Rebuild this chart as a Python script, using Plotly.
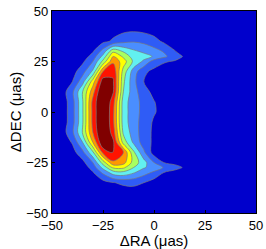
import plotly.graph_objects as go

# Offsets (micro-arcseconds)
ra = [-50, -45, -40, -35, -30, -25, -20, -15, -10, -5, 0, 5, 10, 12.5, 15, 20, 25, 30, 35, 40, 45, 50]
dec = [-50, -45, -40, -35, -30, -27.5, -25, -20, -15, -10, -5, 0, 5, 10, 15, 20, 25, 27.5, 30, 35, 40, 45, 50]

# Intensity levels (rows: DEC ascending, cols: RA ascending)
row_m50 = [0, 0, 0, 0, 0, 0, 0.02, 0.03, 0.03, 0.02, 0.01, 0, 0, 0, 0, 0, 0, 0, 0, 0, 0, 0]
row_m45 = [0, 0, 0, 0, 0, 0.05, 0.1, 0.15, 0.15, 0.1, 0.05, 0, 0, 0, 0, 0, 0, 0, 0, 0, 0, 0]
row_m40 = [0, 0, 0, 0, 0.05, 0.2, 0.35, 0.45, 0.45, 0.35, 0.2, 0.05, 0, 0, 0, 0, 0, 0, 0, 0, 0, 0]
row_m35 = [0, 0, 0, 0, 0.2, 0.6, 0.95, 1.2, 1.3, 1.0, 0.5, 0.25, 0.1, 0.05, 0, 0, 0, 0, 0, 0, 0, 0]
row_m30 = [0, 0, 0, 0.2, 0.9, 2.2, 3.5, 3.7, 3.1, 2.4, 1.8, 0.95, 0.6, 0.4, 0.3, 0.05, 0, 0, 0, 0, 0, 0]
row_m27 = [0, 0, 0.05, 0.4, 1.4, 3.3, 5.2, 5.2, 4.0, 3.1, 2.6, 1.9, 1.4, 1.15, 0.85, 0.2, 0, 0, 0, 0, 0, 0]
row_m25 = [0, 0, 0.1, 0.7, 2.0, 4.5, 6.8, 6.4, 4.6, 3.4, 2.0, 0.95, 0.7, 0.6, 0.4, 0.05, 0, 0, 0, 0, 0, 0]
row_m20 = [0, 0.1, 0.6, 1.7, 3.8, 7.3, 8.05, 7.0, 4.2, 2.2, 0.5, 0.45, 0.25, 0.2, 0.1, 0, 0, 0, 0, 0, 0, 0]
row_m15 = [0, 0.3, 1.1, 3.0, 6.0, 9.0, 8.2, 4.6, 2.8, 1.5, 0.8, 0.4, 0.2, 0.15, 0.1, 0, 0, 0, 0, 0, 0, 0]
row_m10 = [0, 0.5, 1.8, 4.1, 7.0, 9.4, 7.5, 3.8, 2.5, 1.5, 0.8, 0.4, 0.2, 0.15, 0.1, 0, 0, 0, 0, 0, 0, 0]
row_m05 = [0, 0.4, 1.6, 3.9, 7.3, 9.4, 7.2, 3.5, 2.4, 1.6, 0.85, 0.5, 0.2, 0.15, 0.1, 0, 0, 0, 0, 0, 0, 0]
row_000 = [0, 0.4, 1.6, 3.9, 7.3, 9.4, 7.2, 3.5, 2.4, 1.7, 1.1, 0.6, 0.3, 0.2, 0.1, 0, 0, 0, 0, 0, 0, 0]
row_p05 = [0, 0.4, 1.6, 3.9, 7.3, 9.4, 7.4, 3.5, 2.4, 1.7, 1.05, 0.5, 0.2, 0.15, 0.1, 0, 0, 0, 0, 0, 0, 0]
row_p10 = [0, 0.5, 1.8, 4.0, 6.6, 9.3, 8.1, 4.0, 2.4, 1.4, 0.7, 0.4, 0.2, 0.15, 0.1, 0, 0, 0, 0, 0, 0, 0]
row_p15 = [0, 0.3, 1.0, 2.6, 5.5, 8.6, 8.1, 4.2, 2.3, 1.0, 0.6, 0.4, 0.2, 0.15, 0.1, 0.05, 0, 0, 0, 0, 0, 0]
row_p20 = [0, 0, 0.6, 1.6, 3.2, 7.0, 7.8, 4.6, 2.5, 1.2, 0.75, 0.45, 0.25, 0.2, 0.1, 0.05, 0, 0, 0, 0, 0, 0]
row_p25 = [0, 0, 0.2, 0.8, 2.0, 4.3, 6.8, 5.5, 3.8, 2.8, 1.5, 1.1, 0.9, 0.7, 0.5, 0.1, 0, 0, 0, 0, 0, 0]
row_p27 = [0, 0, 0.05, 0.45, 1.4, 3.3, 6.0, 4.8, 3.5, 3.4, 2.9, 2.2, 1.5, 1.2, 0.85, 0.2, 0, 0, 0, 0, 0, 0]
row_p30 = [0, 0, 0, 0.25, 0.9, 2.4, 4.8, 3.9, 3.2, 2.8, 2.4, 1.9, 1.1, 0.75, 0.4, 0.1, 0, 0, 0, 0, 0, 0]
row_p35 = [0, 0, 0, 0.15, 0.4, 0.75, 1.15, 1.7, 1.9, 1.75, 1.35, 0.8, 0.3, 0.15, 0.05, 0, 0, 0, 0, 0, 0, 0]
row_p40 = [0, 0, 0, 0.05, 0.2, 0.45, 0.7, 0.85, 0.95, 0.85, 0.65, 0.35, 0.1, 0.05, 0.02, 0, 0, 0, 0, 0, 0, 0]
row_p45 = [0, 0, 0, 0, 0.05, 0.15, 0.3, 0.4, 0.45, 0.4, 0.3, 0.15, 0.05, 0, 0, 0, 0, 0, 0, 0, 0, 0]
row_p50 = [0, 0, 0, 0, 0, 0.05, 0.1, 0.15, 0.15, 0.15, 0.1, 0.05, 0, 0, 0, 0, 0, 0, 0, 0, 0, 0]

intensity = [row_m50, row_m45, row_m40, row_m35, row_m30, row_m27, row_m25, row_m20, row_m15,
             row_m10, row_m05, row_000, row_p05, row_p10, row_p15, row_p20, row_p25, row_p27,
             row_p30, row_p35, row_p40, row_p45, row_p50]

tick_vals = [-50, -25, 0, 25, 50]
tick_text = ["\u221250", "\u221225", "0", "25", "50"]

band_colors = ["#0000CC", "#2F5CF6", "#4A8EFF", "#62F0F0", "#A8FF60",
               "#FFFF00", "#FF9800", "#FF1400", "#800000"]
n = len(band_colors) - 1
colorscale = [[i / n, c] for i, c in enumerate(band_colors)]

fig = go.Figure(go.Contour(
    x=ra, y=dec, z=intensity,
    contours=dict(start=1, end=8, size=1, coloring="fill"),
    colorscale=colorscale,
    showscale=False,
    line=dict(color="#7a7a7a", width=0.7, smoothing=1.0),
    hoverinfo="skip",
))

font = dict(family="Liberation Sans, Arial, Helvetica, sans-serif", color="black")
axis_common = dict(
    range=[-50, 50], tickvals=tick_vals, ticktext=tick_text,
    showgrid=False, zeroline=False, showline=True, mirror=True,
    linecolor="black", linewidth=1.2, ticks="inside", ticklen=3,
    tickcolor="black", tickfont=dict(size=13, **font), automargin=False,
)
fig.update_layout(
    width=266, height=249,
    margin=dict(l=52, r=10, t=11, b=36),
    paper_bgcolor="white", plot_bgcolor="#0000CC",
    font=font,
    xaxis=dict(**axis_common, title=dict(text="\u0394RA (\u03bcas)", font=dict(size=15, **font), standoff=0)),
    yaxis=dict(**axis_common, title=dict(text="\u0394DEC (\u03bcas)", font=dict(size=15, **font), standoff=0)),
)
fig.write_html("out.html", config={"displayModeBar": False},
               post_script="document.body.style.margin='0px';document.body.style.overflow='hidden';")
